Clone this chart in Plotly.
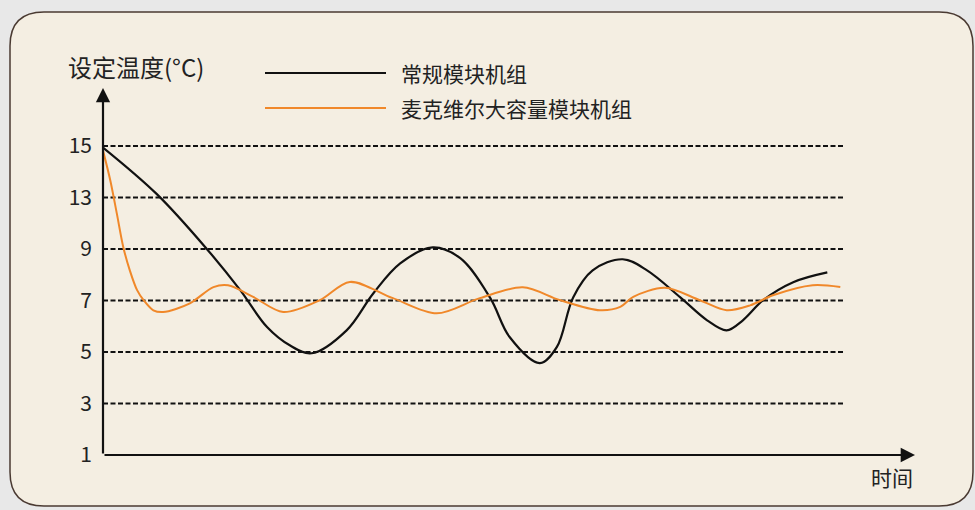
import plotly.graph_objects as go

# tick labels (the axis is not linear: 9 -> 13 takes one step)
tick_pos = [1, 3, 5, 7, 9, 11, 13]
tick_text = ["1", "3", "5", "7", "9", "13", "15"]

# series (x = time, y = position on the tick scale)
normal_x = [0, 6.6, 12.6, 16.9, 20.2, 23.0, 25.7, 30.0, 33.3, 36.6, 40.6, 44.0, 47.7, 50.1,
            53.8, 55.9, 57.9, 60.3, 64.0, 67.0, 71.1, 74.4, 76.8, 78.8, 81.3, 85.0, 89.2]
normal_y = [12.94, 11.14, 9.07, 7.40, 5.97, 5.26, 4.95, 5.84, 7.28, 8.44, 9.06, 8.64, 7.09,
            5.57, 4.57, 5.20, 7.12, 8.17, 8.60, 8.17, 7.12, 6.23, 5.84, 6.23, 7.01, 7.71, 8.09]

mcquay_x = [0, 0.9, 1.7, 2.5, 3.3, 4.2, 5.0, 6.2, 7.4, 10.7, 13.6, 15.4, 18.5, 22.2, 26.7,
            30.4, 35.7, 41.1, 46.4, 51.7, 56.3, 61.2, 63.7, 65.3, 69.2, 73.5, 76.8, 79.7,
            82.5, 87.4, 90.8]
mcquay_y = [12.82, 11.66, 10.38, 9.07, 8.17, 7.40, 7.01, 6.62, 6.55, 6.89, 7.52, 7.59, 7.14,
            6.55, 7.01, 7.72, 7.09, 6.50, 7.09, 7.51, 7.01, 6.62, 6.75, 7.14, 7.49, 7.01,
            6.62, 6.81, 7.20, 7.59, 7.52]

names = ["常规模块机组", "麦克维尔大容量模块机组"]
colors = ["#111111", "#f0882a"]

W, H = 975, 510
L, R, T, B = 103, 60, 88, 55
PW, PH = W - L - R, H - T - B
FONT = "Noto Sans CJK SC, Noto Sans, sans-serif"


def px(x):
    return (x - L) / PW


def py(y):
    return (H - B - y) / PH


fig = go.Figure()
fig.add_trace(go.Scatter(x=normal_x, y=normal_y, mode="lines", name=names[0],
                         line=dict(color=colors[0], width=2.2, shape="spline", smoothing=1.0)))
fig.add_trace(go.Scatter(x=mcquay_x, y=mcquay_y, mode="lines", name=names[1],
                         line=dict(color=colors[1], width=2, shape="spline", smoothing=0.9)))

# rounded cream panel
l, t, r, b, rad = 10, 12, 973, 506, 34
path = (f"M {px(l + rad)},{py(t)} L {px(r - rad)},{py(t)} Q {px(r)},{py(t)} {px(r)},{py(t + rad)} "
        f"L {px(r)},{py(b - rad)} Q {px(r)},{py(b)} {px(r - rad)},{py(b)} "
        f"L {px(l + rad)},{py(b)} Q {px(l)},{py(b)} {px(l)},{py(b - rad)} "
        f"L {px(l)},{py(t + rad)} Q {px(l)},{py(t)} {px(l + rad)},{py(t)} Z")
shapes = [dict(type="path", path=path, xref="paper", yref="paper", layer="below",
               fillcolor="#f4eee2", line=dict(color="#4a3a32", width=1.5))]

# dashed grid lines, stopping short of the arrow
for v in tick_pos[1:]:
    shapes.append(dict(type="line", xref="x", yref="y", x0=0, x1=91.4, y0=v, y1=v,
                       layer="below", line=dict(color="#111111", width=2, dash="5px,2.5px")))

# legend drawn by hand (long sample lines)
for i, yy in enumerate([73, 108]):
    shapes.append(dict(type="line", xref="paper", yref="paper", x0=px(265), x1=px(386),
                       y0=py(yy), y1=py(yy), line=dict(color=colors[i], width=2)))

annotations = [
    # axis arrows
    dict(x=0, y=15.25, ax=0, ay=1, xref="x", yref="y", axref="x", ayref="y", text="",
         showarrow=True, arrowhead=2, arrowsize=1.3, arrowwidth=2.2, arrowcolor="#111111"),
    dict(x=100, y=1, ax=0, ay=1, xref="x", yref="y", axref="x", ayref="y", text="",
         showarrow=True, arrowhead=2, arrowsize=1.3, arrowwidth=2.2, arrowcolor="#111111"),
    dict(x=px(136), y=py(66), xref="paper", yref="paper", text="设定温度(°C)", showarrow=False,
         xanchor="center", yanchor="middle", font=dict(family=FONT, size=24, color="#222222")),
    dict(x=px(892), y=py(477), xref="paper", yref="paper", text="时间", showarrow=False,
         xanchor="center", yanchor="middle", font=dict(family=FONT, size=21, color="#222222")),
]
for i, yy in enumerate([73, 108]):
    annotations.append(dict(x=px(399), y=py(yy), xref="paper", yref="paper", text=names[i],
                            showarrow=False, xanchor="left", yanchor="middle",
                            font=dict(family=FONT, size=21, color="#222222")))

fig.update_layout(
    width=W, height=H,
    margin=dict(l=L, r=R, t=T, b=B),
    paper_bgcolor="#e8e8e8",
    plot_bgcolor="rgba(0,0,0,0)",
    showlegend=False,
    shapes=shapes,
    annotations=annotations,
    font=dict(family=FONT, color="#222222"),
)
fig.update_xaxes(range=[0, 100], showgrid=False, zeroline=False, showticklabels=False,
                 showline=False)
fig.update_yaxes(range=[1, 15.25], tickvals=tick_pos, ticktext=tick_text, showgrid=False,
                 zeroline=False, showline=False, ticks="", ticklabelstandoff=10,
                 tickfont=dict(family=FONT, size=21, color="#222222"))

fig.write_html("out.html", config={"displayModeBar": False},
               post_script="document.body.style.margin='0';")
